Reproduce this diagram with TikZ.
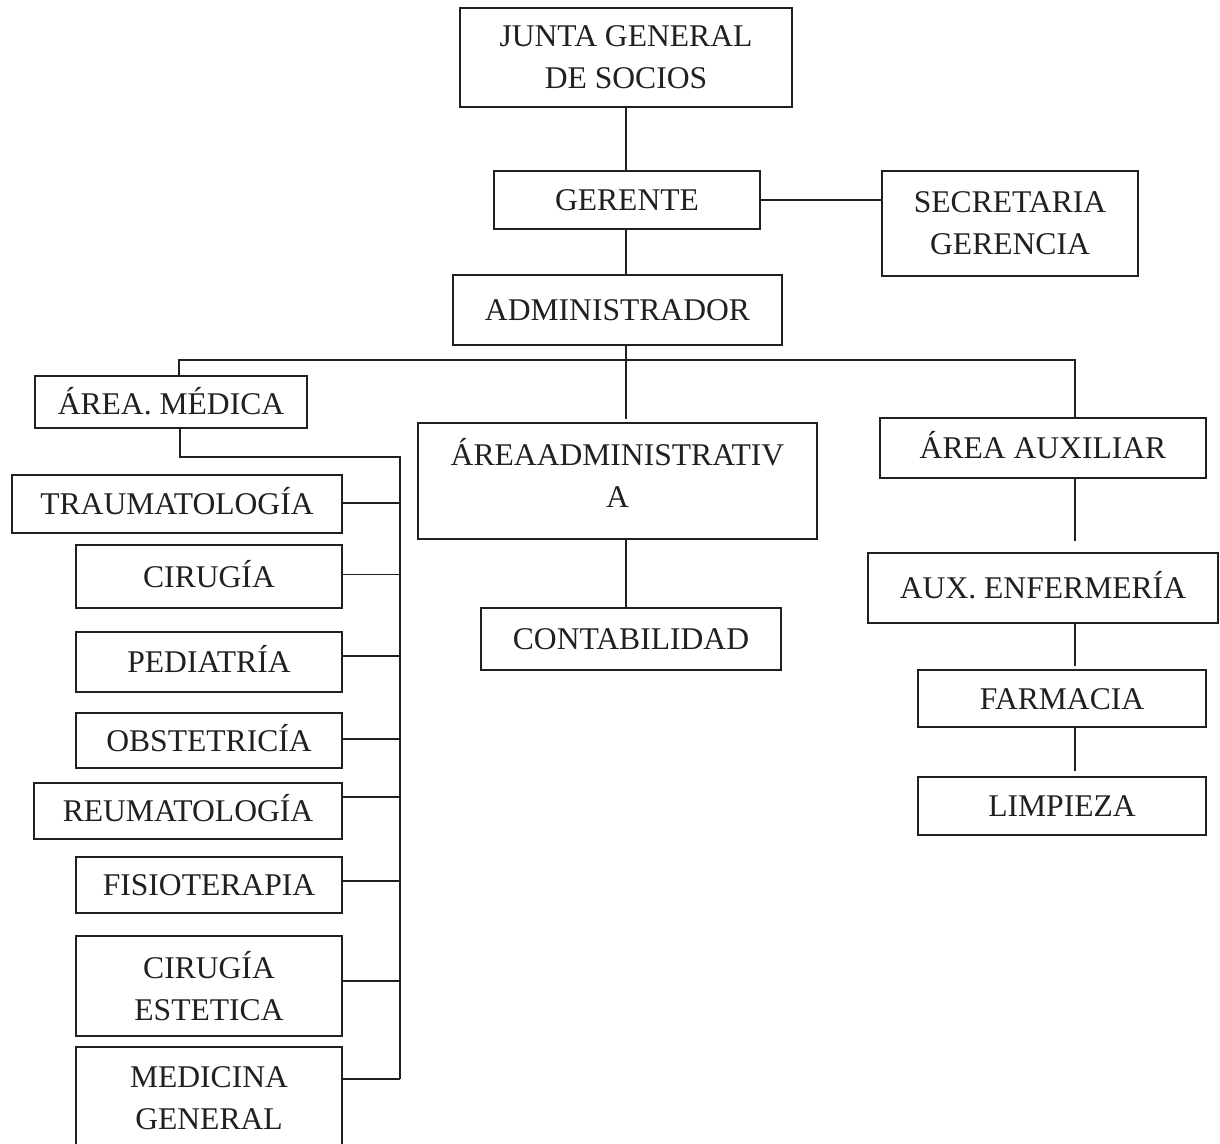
\documentclass[tikz,border=0pt]{standalone}
\usepackage{fontspec}
\setmainfont{Liberation Serif}
\definecolor{ink}{HTML}{231F20}
\tikzset{
  ob/.style={draw=ink, line width=0.9pt, inner sep=0pt, align=center, text=ink,
    font=\fontsize{15.8}{21}\selectfont},
  one/.style={text height=10.5pt, text depth=0pt},
  conn/.style={draw=ink, line width=0.9pt}
}
% \orgbox[extra]{name}{x1}{y1}{x2}{y2}{text}
\newcommand\orgbox[7][]{\node[ob,#1,minimum width={(#5-#3)*0.5pt},minimum height={(#6-#4)*0.5pt}] (#2) at ({(#3+#5)/2},{(#4+#6)/2}) {#7};}
\begin{document}
\begin{tikzpicture}[x=0.5pt,y=-0.5pt]
\useasboundingbox (0,0) rectangle (1220,1144);
\clip (0,0) rectangle (1220,1144);
% top
\orgbox{junta}{460}{8}{792}{107}{JUNTA GENERAL\\DE SOCIOS}
\orgbox[one]{ger}{494}{171}{760}{229}{GERENTE}
\orgbox{sec}{882}{171}{1138}{276}{SECRETARIA\\GERENCIA}
\orgbox[one]{adm}{453}{275}{782}{345}{ADMINISTRADOR}
% areas
\orgbox[one, text height=12.5pt]{med}{35}{376}{307}{428}{ÁREA. MÉDICA}
\orgbox[text depth=8pt]{aadm}{418}{423}{817}{539}{ÁREAADMINISTRATIV\\A}
\orgbox[one]{aux}{880}{418}{1206}{478}{ÁREA AUXILIAR}
\orgbox[one]{cont}{481}{608}{781}{670}{CONTABILIDAD}
% auxiliar
\orgbox[one]{enf}{868}{553}{1218}{623}{AUX. ENFERMERÍA}
\orgbox[one]{farm}{918}{670}{1206}{727}{FARMACIA}
\orgbox[one]{limp}{918}{777}{1206}{835}{LIMPIEZA}
% medica
\orgbox[one]{tra}{12}{475}{342}{533}{TRAUMATOLOGÍA}
\orgbox[one]{cir}{76}{545}{342}{608}{CIRUGÍA}
\orgbox[one]{ped}{76}{632}{342}{692}{PEDIATRÍA}
\orgbox[one]{obs}{76}{713}{342}{768}{OBSTETRICÍA}
\orgbox[one]{reu}{34}{783}{342}{839}{REUMATOLOGÍA}
\orgbox[one]{fis}{76}{857}{342}{913}{FISIOTERAPIA}
\orgbox{est}{76}{936}{342}{1036}{CIRUGÍA\\ESTETICA}
\orgbox{mgen}{76}{1047}{342}{1150}{MEDICINA\\GENERAL}
% bus coordinates
\coordinate (busM) at (626,360);
\coordinate (busL) at (179,360);
\coordinate (busR) at (1075,360);
\coordinate (medL) at (180,457);
\coordinate (vbus) at (400,457);
% connectors
\draw[conn] (junta.south -| busM) -- (ger.north -| busM);
\draw[conn] (ger.east) -- (ger.east -| sec.west);
\draw[conn] (ger.south -| busM) -- (adm.north -| busM);
\draw[conn] (adm.south -| busM) -- (busM);
\draw[conn] (med.north -| busL) -- (busL) -- (busR) -- (aux.north -| busR);
\draw[conn, shorten >=1.5pt] (busM) -- (aadm.north -| busM);
\draw[conn] (aadm.south -| busM) -- (cont.north -| busM);
\draw[conn] (med.south -| medL) -- (medL) -- (vbus) -- (vbus |- {0,1079});
\draw[conn] ([yshift=0.5pt]tra.east) -- ([yshift=0.5pt]tra.east -| vbus);
\draw[conn] ([yshift=1pt]cir.east) -- ([yshift=1pt]cir.east -| vbus);
\draw[conn] ([yshift=3pt]ped.east) -- ([yshift=3pt]ped.east -| vbus);
\draw[conn] ([yshift=0.8pt]obs.east) -- ([yshift=0.8pt]obs.east -| vbus);
\draw[conn] ([yshift=7pt]reu.east) -- ([yshift=7pt]reu.east -| vbus);
\draw[conn] ([yshift=2pt]fis.east) -- ([yshift=2pt]fis.east -| vbus);
\draw[conn] ([yshift=2.5pt]est.east) -- ([yshift=2.5pt]est.east -| vbus);
\draw[conn] ([yshift=9.7pt]mgen.east) -- ([yshift=9.7pt]mgen.east -| vbus);
\draw[conn, shorten >=5.5pt] (aux.south -| busR) -- (enf.north -| busR);
\draw[conn, shorten >=1.5pt] (enf.south -| busR) -- (farm.north -| busR);
\draw[conn, shorten >=2.5pt] (farm.south -| busR) -- (limp.north -| busR);
\end{tikzpicture}
\end{document}
